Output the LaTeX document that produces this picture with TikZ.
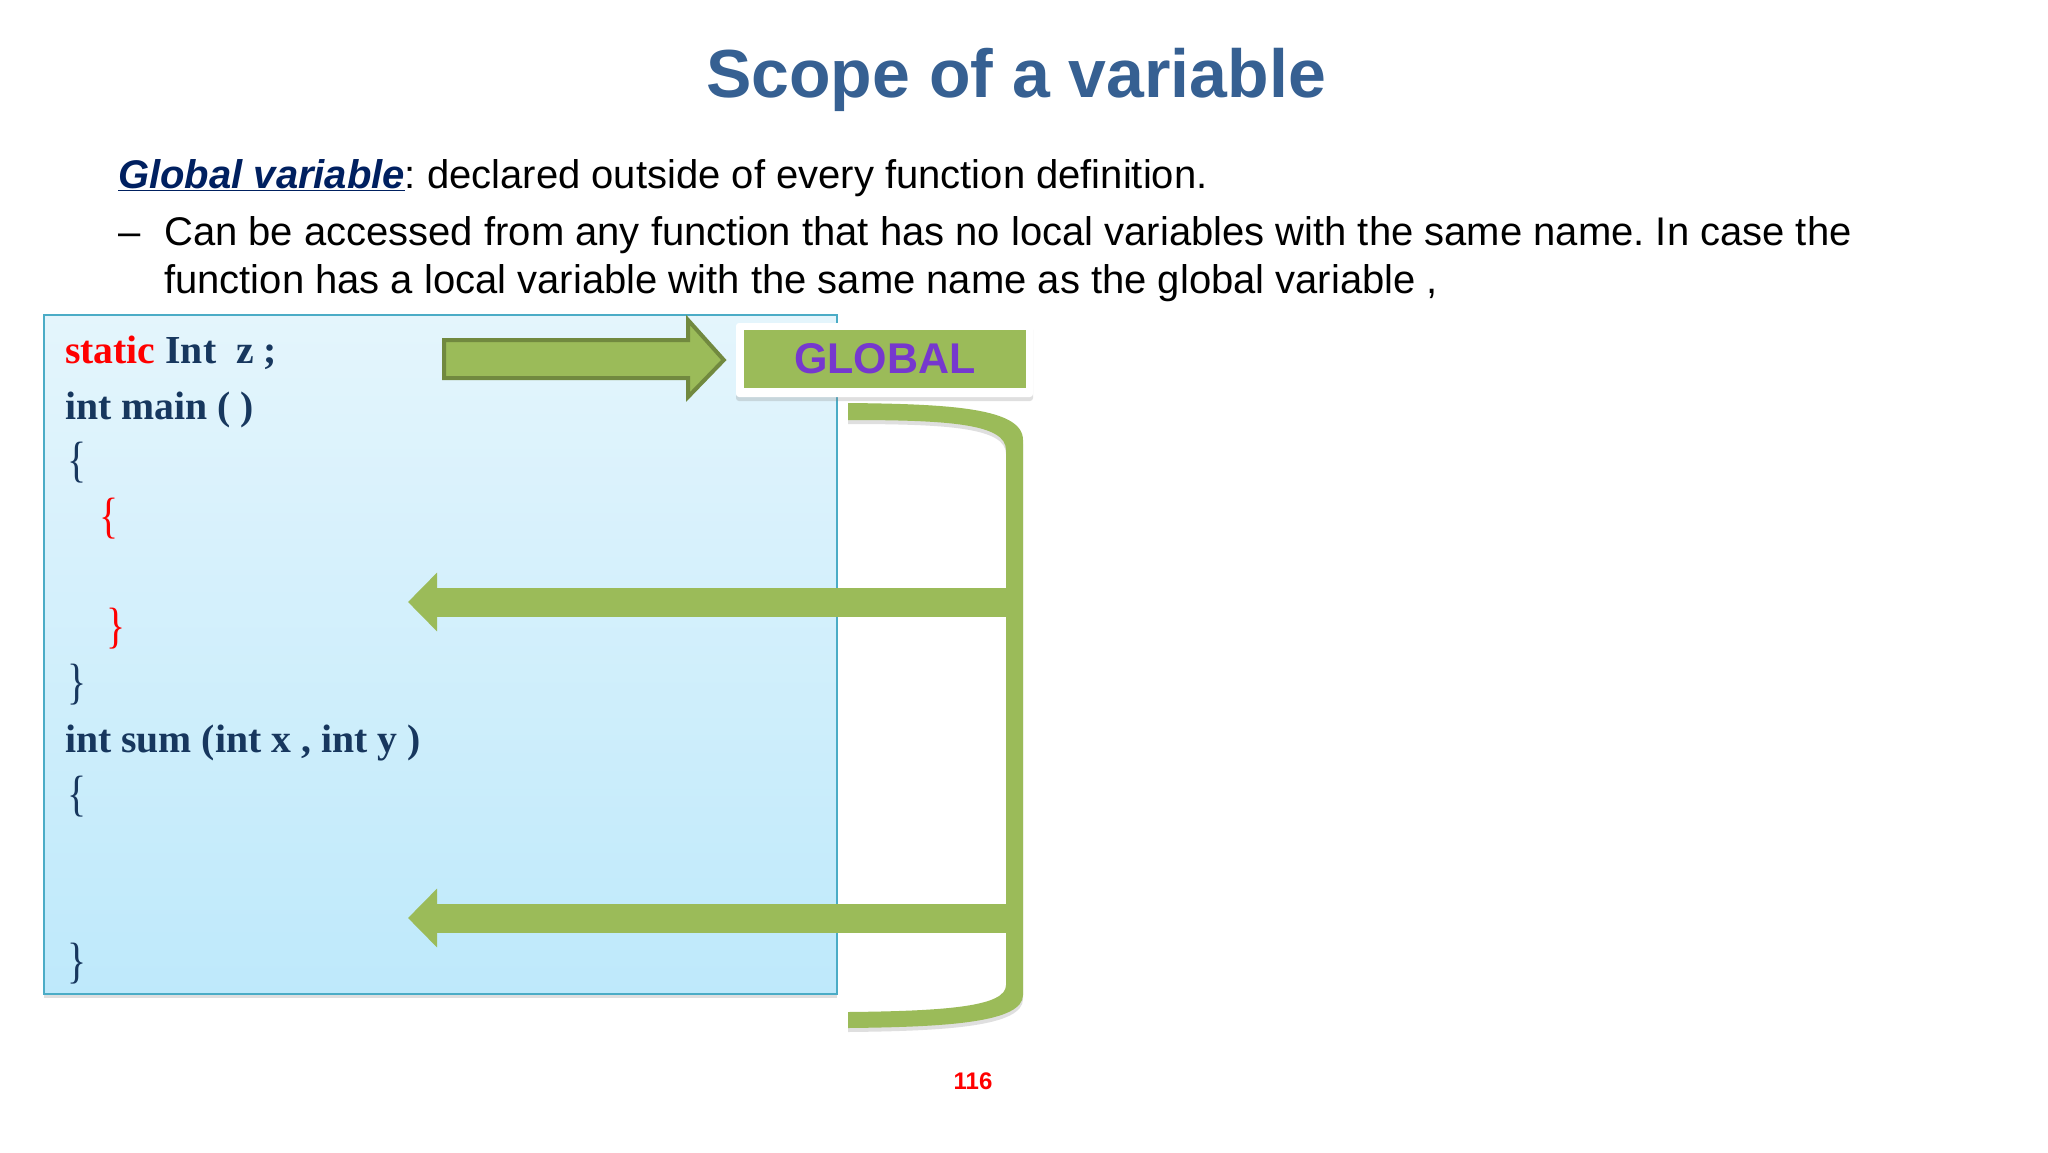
\documentclass[tikz,border=0pt]{standalone}
\usepackage{fontspec}
\setmainfont{Liberation Sans}
\newfontfamily\codefont{Liberation Serif}
\usepackage{xcolor}
\usetikzlibrary{arrows.meta,positioning,calc,shadows}
\frenchspacing

\definecolor{titleblue}{RGB}{54,96,146}
\definecolor{defnavy}{RGB}{0,32,96}
\definecolor{codenavy}{RGB}{23,55,94}
\definecolor{olive}{RGB}{155,187,89}
\definecolor{darkolive}{RGB}{113,137,63}
\definecolor{boxline}{RGB}{75,172,198}
\definecolor{boxtop}{RGB}{228,245,252}
\definecolor{boxbot}{RGB}{190,233,251}
\definecolor{globalpurple}{RGB}{118,56,206}

\newcommand{\cbrace}[1]{\mdseries\scalebox{1}[1.25]{#1}}

\tikzset{
  bodytext/.style={anchor=base west, inner sep=0pt, font=\fontsize{40}{47}\selectfont},
  codeline/.style={anchor=base west, inner sep=0pt, text=codenavy, font=\codefont\bfseries\fontsize{39.7}{44}\selectfont},
  olivebar/.style={line width=29pt, draw=olive, -{Triangle[width=57pt,length=29pt]}},
  softshadow/.style={drop shadow={opacity=0.25, shadow xshift=0pt, shadow yshift=-4pt}}
}

\begin{document}
\begin{tikzpicture}[x=1pt, y=-1pt]
\useasboundingbox[fill=white] (0,0) rectangle (2048,1152);

% title and text
\node[anchor=base, inner sep=0pt, text=titleblue, font=\bfseries\fontsize{68}{80}\selectfont] (title) at (1016,97) {Scope of a variable};
\node[bodytext] (def) at (118,188) {\textcolor{defnavy}{\bfseries\itshape\underline{Global variable}}: declared outside of every function definition.};
\node[bodytext] (dash) at (118,245) {--};
\node[bodytext] (bul1) at (164,245) {Can be accessed from any function that has no local variables with the same name. In case the};
\node[bodytext] (bul2) at (164,293) {function has a local variable with the same name as the global variable ,};

% code box
\node[draw=boxline, line width=1.5pt, top color=boxtop, bottom color=boxbot, softshadow,
      minimum width=793pt, minimum height=679pt, inner sep=0pt] (codebox) at (440.5,654.5) {};

\node[codeline] (l1) at (65,363) {\textcolor{red}{static} Int\ \ z ;};
\node[codeline] (l2) at (65,419) {int main ( )};
\node[codeline] (l3) at (67,476) {\cbrace{\{}};
\node[codeline, text=red] (l4) at (99,532) {\cbrace{\{}};
\node[codeline, text=red] (l6) at (106,642) {\cbrace{\}}};
\node[codeline] (l7) at (67,698) {\cbrace{\}}};
\node[codeline] (l8) at (65,752) {int sum (int x , int y )};
\node[codeline] (l9) at (67,810) {\cbrace{\{}};
\node[codeline] (l12) at (67,977) {\cbrace{\}}};

% GLOBAL label
\node[fill=white, rounded corners=3pt, softshadow, minimum width=297pt, minimum height=74pt, inner sep=0pt] (frame) at (884.5,360) {};
\node[fill=olive, minimum width=282pt, minimum height=58pt, inner sep=0pt,
      text=globalpurple, font=\bfseries\fontsize{43}{50}\selectfont] (global) at (885,359) {GLOBAL};

% arrow to GLOBAL
\coordinate (ztail) at (444,359);
\draw[fill=olive, draw=darkolive, line width=4pt, line join=miter]
  (ztail) ++(0,-19) -- ++(244,0) -- ++(0,-20) -- ($(frame.west)+(-12,0)$) -- (688,397) -- ++(0,-19) -- ++(-244,0) -- cycle;

% bracket
\fill[olive, softshadow]
  (848,403) .. controls (950,404) and (1023,408) .. (1023,440)
  -- (1023,995) .. controls (1023,1022) and (950,1027) .. (848,1028)
  -- (848,1012) .. controls (950,1011) and (1006,1006) .. (1006,985)
  -- (1006,450) .. controls (1006,424) and (950,420) .. (848,420) -- cycle;

% arrows back into the code
\coordinate (b1) at (1015,602);
\coordinate (t1) at (408,602);
\coordinate (b2) at (1015,918);
\coordinate (t2) at (408,918);
\draw[olivebar] (b1) -- (t1);
\draw[olivebar] (b2) -- (t2);

% page number
\node[text=red, inner sep=0pt, font=\bfseries\fontsize{24}{28}\selectfont] (page) at (973,1081) {116};
\end{tikzpicture}
\end{document}
